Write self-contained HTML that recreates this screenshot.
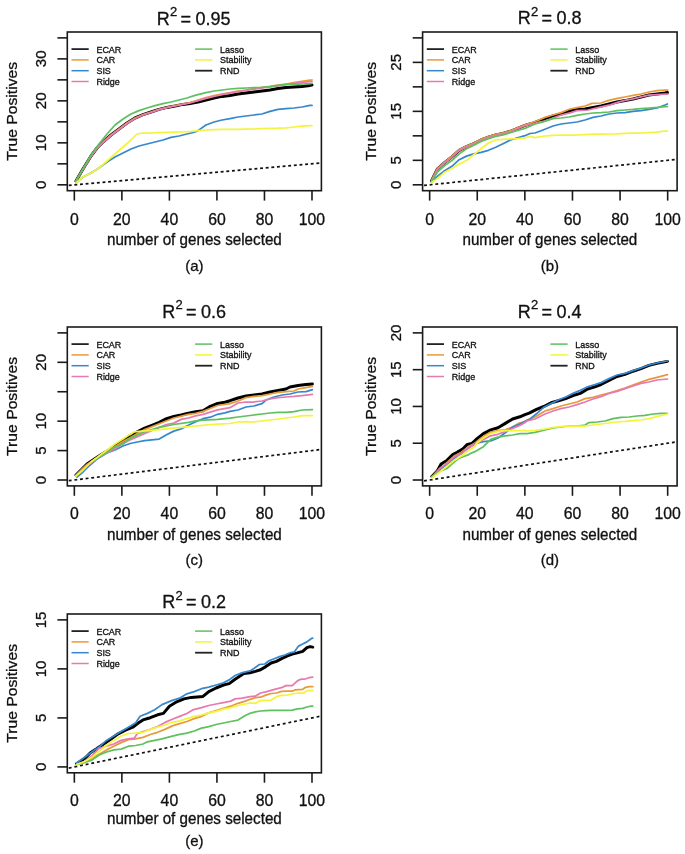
<!DOCTYPE html>
<html><head><meta charset="utf-8"><style>
html,body{margin:0;padding:0;background:#fff;}
svg{display:block;will-change:transform;}
text{font-family:"Liberation Sans", sans-serif;fill:#111;stroke:#111;stroke-width:0.3px;}
</style></head><body>
<svg width="685" height="854" viewBox="0 0 685 854">
<rect width="685" height="854" fill="#fff"/>
<g><text x="156.67" y="24.5" font-size="18.0">R</text><text x="170.1" y="16.3" font-size="13.0">2</text><text x="180.57" y="24.5" font-size="18.0">=</text><text x="195.55" y="24.5" font-size="18.0">0.95</text><clipPath id="cpa"><rect x="67.3" y="32" width="254.1" height="158.7"/></clipPath><g clip-path="url(#cpa)"><line x1="67.3" y1="185.44" x2="321.4" y2="163" stroke="#111" stroke-width="1.7" stroke-dasharray="2.90 2.75" stroke-dashoffset="4.21"/><path d="M76,181 L83,169 L91,156 L97,148 L103,142 L111,135 L119,129 L127,123 L135,118 L143,114.6 L151,112 L159,109.4 L167,107.4 L175,106 L183,104.4 L190,103.4 L198,102 L206,100 L214,98 L222,96.4 L230,95.4 L238,94 L246,93 L254,92 L262,91 L270,90 L278,88.6 L286,87.6 L294,87 L302,86.4 L310,85.4 L312,85" fill="none" stroke="#000000" stroke-width="3.0" stroke-linejoin="round" stroke-linecap="round"/><path d="M76,181 L83,169 L91,156 L97,148 L103,142 L111,135 L119,129 L127,123 L135,118 L143,114.6 L151,112 L159,109.4 L167,107.4 L175,105.6 L183,104 L190,102.5 L198,100 L206,97.6 L214,95.6 L222,94 L230,92.6 L238,91 L246,90 L254,88.6 L262,87.4 L270,86.4 L278,85 L286,84 L294,82.6 L302,81.4 L310,80.2 L312,80" fill="none" stroke="#E8993A" stroke-width="1.75" stroke-linejoin="round" stroke-linecap="round"/><path d="M76,183 L83,177 L91,173 L99,168 L107,162 L115,157 L123,153 L131,149 L139,146 L147,144 L155,142 L163,140 L171,137.4 L179,136 L187,134 L195,132 L198,130.6 L206,125 L214,122 L222,120 L230,118.6 L238,117 L246,116 L254,115 L262,114 L270,111.4 L278,109.4 L286,108.6 L294,108 L302,107 L310,105.4 L312,105.4" fill="none" stroke="#3787CD" stroke-width="1.75" stroke-linejoin="round" stroke-linecap="round"/><path d="M76,181 L83,169.5 L91,156.5 L97,148.5 L103,142.5 L111,135.5 L119,129.5 L127,123.5 L135,118.5 L143,115 L151,112.4 L159,109.6 L167,107.6 L175,106 L183,104.4 L190,103 L198,100.6 L206,98.4 L214,96.4 L222,94.6 L230,93.2 L238,91.6 L246,90.4 L254,89.2 L262,88 L270,87 L278,85.8 L286,84.6 L294,83.4 L302,82.4 L310,81.6 L312,81.4" fill="none" stroke="#E67AAE" stroke-width="1.75" stroke-linejoin="round" stroke-linecap="round"/><path d="M76,181 L83,169 L91,155 L99,144 L107,134 L115,125 L123,119 L131,114 L139,110.6 L147,108 L155,105.6 L163,103.6 L171,102 L179,100 L187,98 L195,95.4 L206,92.6 L214,91 L222,90 L230,89 L238,88.4 L246,88 L254,87.6 L262,87.4 L270,86.6 L278,85.4 L286,84.4 L294,84 L302,84 L310,83.6 L312,83.4" fill="none" stroke="#5EC05E" stroke-width="1.75" stroke-linejoin="round" stroke-linecap="round"/><path d="M76,183 L83,177 L91,173 L99,168 L107,161 L115,154 L123,147 L131,140 L137,134 L143,133 L151,133 L159,132.6 L167,132.4 L175,132.2 L183,132 L191,131.4 L198,130.6 L206,130 L214,129.6 L222,129.4 L230,129.4 L238,129.4 L246,129.2 L254,129 L262,128.6 L270,128.4 L278,128.2 L286,127.8 L294,127 L302,126.2 L310,125.6 L312,125.6" fill="none" stroke="#F4F43C" stroke-width="1.75" stroke-linejoin="round" stroke-linecap="round"/></g><rect x="67.3" y="32" width="254.1" height="158.7" fill="none" stroke="#1a1a1a" stroke-width="1.6"/><line x1="57.4" y1="184.82" x2="67.3" y2="184.82" stroke="#1a1a1a" stroke-width="1.6"/><line x1="57.4" y1="163.83" x2="67.3" y2="163.83" stroke="#1a1a1a" stroke-width="1.6"/><line x1="57.4" y1="142.84" x2="67.3" y2="142.84" stroke="#1a1a1a" stroke-width="1.6"/><line x1="57.4" y1="121.85" x2="67.3" y2="121.85" stroke="#1a1a1a" stroke-width="1.6"/><line x1="57.4" y1="100.85" x2="67.3" y2="100.85" stroke="#1a1a1a" stroke-width="1.6"/><line x1="57.4" y1="79.86" x2="67.3" y2="79.86" stroke="#1a1a1a" stroke-width="1.6"/><line x1="57.4" y1="58.87" x2="67.3" y2="58.87" stroke="#1a1a1a" stroke-width="1.6"/><line x1="57.4" y1="37.88" x2="67.3" y2="37.88" stroke="#1a1a1a" stroke-width="1.6"/><text transform="translate(45.87,184.82) rotate(-90)" font-size="15.0" text-anchor="middle">0</text><text transform="translate(45.87,142.84) rotate(-90)" font-size="15.0" text-anchor="middle">10</text><text transform="translate(45.87,100.85) rotate(-90)" font-size="15.0" text-anchor="middle">20</text><text transform="translate(45.87,58.87) rotate(-90)" font-size="15.0" text-anchor="middle">30</text><line x1="74.33" y1="190.7" x2="74.33" y2="200.6" stroke="#1a1a1a" stroke-width="1.6"/><text x="74.33" y="224.56" font-size="15.8" text-anchor="middle">0</text><line x1="121.87" y1="190.7" x2="121.87" y2="200.6" stroke="#1a1a1a" stroke-width="1.6"/><text x="121.87" y="224.56" font-size="15.8" text-anchor="middle">20</text><line x1="169.4" y1="190.7" x2="169.4" y2="200.6" stroke="#1a1a1a" stroke-width="1.6"/><text x="169.4" y="224.56" font-size="15.8" text-anchor="middle">40</text><line x1="216.93" y1="190.7" x2="216.93" y2="200.6" stroke="#1a1a1a" stroke-width="1.6"/><text x="216.93" y="224.56" font-size="15.8" text-anchor="middle">60</text><line x1="264.46" y1="190.7" x2="264.46" y2="200.6" stroke="#1a1a1a" stroke-width="1.6"/><text x="264.46" y="224.56" font-size="15.8" text-anchor="middle">80</text><line x1="311.99" y1="190.7" x2="311.99" y2="200.6" stroke="#1a1a1a" stroke-width="1.6"/><text x="311.99" y="224.56" font-size="15.8" text-anchor="middle">100</text><text transform="translate(194.35,244.8) scale(1,1.05)" font-size="15.2" text-anchor="middle">number of genes selected</text><text transform="translate(16.8,111.35) rotate(-90) scale(1,0.89)" font-size="15.7" text-anchor="middle">True Positives</text><text x="194.35" y="270.5" font-size="15.0" text-anchor="middle">(a)</text><line x1="71.5" y1="49.1" x2="88.7" y2="49.1" stroke="#222" stroke-width="1.8"/><text transform="translate(96.4,52.6) scale(1.01,1.1)" font-size="8.9">ECAR</text><line x1="71.5" y1="59.9" x2="88.7" y2="59.9" stroke="#E8993A" stroke-width="1.5"/><text transform="translate(96.4,63.4) scale(1.01,1.1)" font-size="8.9">CAR</text><line x1="71.5" y1="70.7" x2="88.7" y2="70.7" stroke="#3787CD" stroke-width="1.5"/><text transform="translate(96.4,74.2) scale(1.01,1.1)" font-size="8.9">SIS</text><line x1="71.5" y1="81.5" x2="88.7" y2="81.5" stroke="#E67AAE" stroke-width="1.5"/><text transform="translate(96.4,85) scale(1.01,1.1)" font-size="8.9">Ridge</text><line x1="195.1" y1="49.1" x2="212.3" y2="49.1" stroke="#5EC05E" stroke-width="1.5"/><text transform="translate(220,52.6) scale(1.01,1.1)" font-size="8.9">Lasso</text><line x1="195.1" y1="59.9" x2="212.3" y2="59.9" stroke="#F4F43C" stroke-width="1.5"/><text transform="translate(220,63.4) scale(1.01,1.1)" font-size="8.9">Stability</text><line x1="195.1" y1="70.7" x2="212.3" y2="70.7" stroke="#222" stroke-width="1.8"/><text transform="translate(220,74.2) scale(1.01,1.1)" font-size="8.9">RND</text></g><g><text x="517.67" y="24.4" font-size="18.0">R</text><text x="531.1" y="16.2" font-size="13.0">2</text><text x="541.57" y="24.4" font-size="18.0">=</text><text x="556.55" y="24.4" font-size="18.0">0.8</text><clipPath id="cpb"><rect x="422.6" y="32" width="254.5" height="158.7"/></clipPath><g clip-path="url(#cpb)"><line x1="422.6" y1="185.55" x2="677.1" y2="159.36" stroke="#111" stroke-width="1.7" stroke-dasharray="2.90 2.76" stroke-dashoffset="4.21"/><path d="M431.5,180.9 L437.3,169.2 L444.6,162.7 L451.9,156.8 L459.2,150.3 L466.5,146.6 L473.8,143.7 L481.1,140 L488.4,137.1 L495.7,134.9 L503,133.5 L510.3,131.3 L517.6,128.4 L524.9,125.4 L530,124 L531,124 L539,121 L545,118.6 L553,116 L561,114 L569,111.4 L577,109.4 L585,109 L593,107.4 L601,106 L609,104 L617,102 L625,100.6 L633,99 L641,97 L649,95 L657,94 L665,93 L667.4,92.6" fill="none" stroke="#000000" stroke-width="3.0" stroke-linejoin="round" stroke-linecap="round"/><path d="M431.5,180.3 L437.3,168.6 L444.6,162.1 L451.9,156.2 L459.2,149.7 L466.5,146 L473.8,143.1 L481.1,139.4 L488.4,136.5 L495.7,134.3 L503,132.9 L510.3,130.7 L517.6,127.8 L524.9,124.8 L530,123.4 L531,123 L539,120 L545,117.4 L553,115 L561,112.6 L570,109 L577,107.6 L585,106 L592,103.4 L601,103 L607,100.8 L613,99.4 L620,97.9 L625,97 L633,95.4 L641,94 L649,92 L657,90.6 L665,90 L667.7,90" fill="none" stroke="#E8993A" stroke-width="1.75" stroke-linejoin="round" stroke-linecap="round"/><path d="M431.5,182.4 L437.3,176.5 L444.6,170.7 L451.9,166.3 L459.2,159.7 L466.5,156.1 L473.8,153.9 L481.1,152.4 L488.4,150.3 L495.7,147.3 L503,143.7 L510.3,140 L517.6,137.8 L524.9,135.7 L530,133.5 L535,133 L543,130 L553,126 L561,124 L569,123 L577,122 L585,120 L593,117.4 L601,116 L609,114 L617,113 L625,112.6 L633,111.4 L641,110.6 L649,109.4 L657,108 L665,105 L667.4,104" fill="none" stroke="#3787CD" stroke-width="1.75" stroke-linejoin="round" stroke-linecap="round"/><path d="M431.5,181.3 L437.3,169.6 L444.6,163.1 L451.9,157.2 L459.2,150.7 L466.5,147 L473.8,144.1 L481.1,140.4 L488.4,137.5 L495.7,135.3 L503,133.9 L510.3,131.7 L517.6,128.8 L524.9,125.8 L530,124.4 L531,124.6 L539,122 L545,121 L553,118 L561,115 L570,112.9 L577,110.7 L588,110 L599,107.4 L610,104.9 L620,101.6 L625,100.4 L633,98.8 L641,96.8 L649,95.2 L657,94.6 L665,94 L667.7,94" fill="none" stroke="#E67AAE" stroke-width="1.75" stroke-linejoin="round" stroke-linecap="round"/><path d="M431.5,181.6 L437.3,172.2 L444.6,165.6 L451.9,160.5 L459.2,153.9 L466.5,148.8 L473.8,145.1 L481.1,141.5 L488.4,138.6 L495.7,136.4 L503,134.9 L510.3,132.7 L517.6,130.5 L524.9,128.4 L530,126.2 L535,124 L543,122 L553,118.6 L561,118 L569,117 L577,115.4 L585,114 L593,113 L601,112.6 L609,112 L617,110.6 L625,110 L633,109.4 L641,108.6 L649,108 L657,107.4 L665,106.6 L667.4,106.6" fill="none" stroke="#5EC05E" stroke-width="1.75" stroke-linejoin="round" stroke-linecap="round"/><path d="M431.5,182.4 L437.3,178.7 L444.6,172.2 L451.9,168.5 L459.2,164.1 L466.5,160.5 L473.8,154.6 L481.1,148.8 L488.4,143 L495.7,140 L503,139.3 L510.3,138.9 L517.6,138.6 L524.9,137.8 L530,136.4 L535,137.6 L545,136 L553,135.4 L561,135 L569,135 L577,135 L585,134.6 L593,134.2 L601,134.2 L609,134 L617,133.8 L625,133.4 L633,133 L641,133 L649,132.6 L657,132.2 L665,131 L667.4,131" fill="none" stroke="#F4F43C" stroke-width="1.75" stroke-linejoin="round" stroke-linecap="round"/></g><rect x="422.6" y="32" width="254.5" height="158.7" fill="none" stroke="#1a1a1a" stroke-width="1.6"/><line x1="412.7" y1="184.82" x2="422.6" y2="184.82" stroke="#1a1a1a" stroke-width="1.6"/><line x1="412.7" y1="160.33" x2="422.6" y2="160.33" stroke="#1a1a1a" stroke-width="1.6"/><line x1="412.7" y1="135.84" x2="422.6" y2="135.84" stroke="#1a1a1a" stroke-width="1.6"/><line x1="412.7" y1="111.35" x2="422.6" y2="111.35" stroke="#1a1a1a" stroke-width="1.6"/><line x1="412.7" y1="86.86" x2="422.6" y2="86.86" stroke="#1a1a1a" stroke-width="1.6"/><line x1="412.7" y1="62.37" x2="422.6" y2="62.37" stroke="#1a1a1a" stroke-width="1.6"/><line x1="412.7" y1="37.88" x2="422.6" y2="37.88" stroke="#1a1a1a" stroke-width="1.6"/><text transform="translate(401.17,184.82) rotate(-90)" font-size="15.0" text-anchor="middle">0</text><text transform="translate(401.17,160.33) rotate(-90)" font-size="15.0" text-anchor="middle">5</text><text transform="translate(401.17,111.35) rotate(-90)" font-size="15.0" text-anchor="middle">15</text><text transform="translate(401.17,62.37) rotate(-90)" font-size="15.0" text-anchor="middle">25</text><line x1="429.65" y1="190.7" x2="429.65" y2="200.6" stroke="#1a1a1a" stroke-width="1.6"/><text x="429.65" y="224.56" font-size="15.8" text-anchor="middle">0</text><line x1="477.25" y1="190.7" x2="477.25" y2="200.6" stroke="#1a1a1a" stroke-width="1.6"/><text x="477.25" y="224.56" font-size="15.8" text-anchor="middle">20</text><line x1="524.86" y1="190.7" x2="524.86" y2="200.6" stroke="#1a1a1a" stroke-width="1.6"/><text x="524.86" y="224.56" font-size="15.8" text-anchor="middle">40</text><line x1="572.46" y1="190.7" x2="572.46" y2="200.6" stroke="#1a1a1a" stroke-width="1.6"/><text x="572.46" y="224.56" font-size="15.8" text-anchor="middle">60</text><line x1="620.07" y1="190.7" x2="620.07" y2="200.6" stroke="#1a1a1a" stroke-width="1.6"/><text x="620.07" y="224.56" font-size="15.8" text-anchor="middle">80</text><line x1="667.67" y1="190.7" x2="667.67" y2="200.6" stroke="#1a1a1a" stroke-width="1.6"/><text x="667.67" y="224.56" font-size="15.8" text-anchor="middle">100</text><text transform="translate(549.85,244.8) scale(1,1.05)" font-size="15.2" text-anchor="middle">number of genes selected</text><text transform="translate(375.5,111.35) rotate(-90) scale(1,0.89)" font-size="15.7" text-anchor="middle">True Positives</text><text x="549.85" y="270.5" font-size="15.0" text-anchor="middle">(b)</text><line x1="426.8" y1="49.1" x2="444" y2="49.1" stroke="#222" stroke-width="1.8"/><text transform="translate(451.7,52.6) scale(1.01,1.1)" font-size="8.9">ECAR</text><line x1="426.8" y1="59.9" x2="444" y2="59.9" stroke="#E8993A" stroke-width="1.5"/><text transform="translate(451.7,63.4) scale(1.01,1.1)" font-size="8.9">CAR</text><line x1="426.8" y1="70.7" x2="444" y2="70.7" stroke="#3787CD" stroke-width="1.5"/><text transform="translate(451.7,74.2) scale(1.01,1.1)" font-size="8.9">SIS</text><line x1="426.8" y1="81.5" x2="444" y2="81.5" stroke="#E67AAE" stroke-width="1.5"/><text transform="translate(451.7,85) scale(1.01,1.1)" font-size="8.9">Ridge</text><line x1="550.4" y1="49.1" x2="567.6" y2="49.1" stroke="#5EC05E" stroke-width="1.5"/><text transform="translate(575.3,52.6) scale(1.01,1.1)" font-size="8.9">Lasso</text><line x1="550.4" y1="59.9" x2="567.6" y2="59.9" stroke="#F4F43C" stroke-width="1.5"/><text transform="translate(575.3,63.4) scale(1.01,1.1)" font-size="8.9">Stability</text><line x1="550.4" y1="70.7" x2="567.6" y2="70.7" stroke="#222" stroke-width="1.8"/><text transform="translate(575.3,74.2) scale(1.01,1.1)" font-size="8.9">RND</text></g><g><text x="162.17" y="317.6" font-size="18.0">R</text><text x="175.6" y="309.4" font-size="13.0">2</text><text x="186.07" y="317.6" font-size="18.0">=</text><text x="201.05" y="317.6" font-size="18.0">0.6</text><clipPath id="cpc"><rect x="67.3" y="327" width="254.1" height="158.9"/></clipPath><g clip-path="url(#cpc)"><line x1="67.3" y1="480.89" x2="321.4" y2="449.42" stroke="#111" stroke-width="1.7" stroke-dasharray="2.90 2.77" stroke-dashoffset="4.22"/><path d="M76,475 L81,470 L87,464 L93,460 L99,456 L107,451 L115,446 L123,441 L130,435.5 L137.3,431.8 L144.6,428.2 L151.9,425.3 L159.2,422.3 L166.5,418.7 L173.8,416.5 L181.1,415 L188.4,413.3 L195.7,411.8 L203,410.7 L210.3,406.3 L217.6,403.4 L224.9,402.2 L230,400.7 L238,398 L246,396 L254,395 L262,394 L270,392 L278,390.4 L286,389 L290,387 L298,385.6 L306,384.4 L312.4,384" fill="none" stroke="#000000" stroke-width="3.0" stroke-linejoin="round" stroke-linecap="round"/><path d="M76,475 L81,470 L87,464.5 L93,460.5 L99,456.5 L107,451.5 L115,446.5 L123,441.5 L130,437.7 L144.6,429.6 L159.2,423.8 L173.8,418 L188.4,414.3 L195.7,413.3 L203,411.4 L210.3,408.5 L217.6,405.5 L230,403.6 L238,401 L246,397.6 L254,396.4 L262,395.6 L270,394 L278,392.4 L286,391.6 L294,391 L298,389 L306,387.6 L312.4,386.4" fill="none" stroke="#E8993A" stroke-width="1.75" stroke-linejoin="round" stroke-linecap="round"/><path d="M77,477 L83,472 L89,466 L97,459 L107,453 L115,450 L123,446 L130,443.5 L137.3,442 L144.6,440.6 L151.9,439.9 L159.2,439.1 L166.5,434.7 L173.8,431.1 L181.1,428.9 L188.4,425.3 L195.7,421.6 L203,418.7 L210.3,417.2 L217.6,414.3 L224.9,412.8 L230,411.4 L238,410 L246,407 L254,406 L262,403.6 L266,400 L274,397 L282,395 L290,394 L298,392 L306,391.6 L312.4,389.6" fill="none" stroke="#3787CD" stroke-width="1.75" stroke-linejoin="round" stroke-linecap="round"/><path d="M76,476 L87,466 L99,457 L107,453 L115,449 L123,443.6 L130,439.9 L151.9,430.4 L166.5,424.5 L173.8,423.1 L181.1,419.4 L188.4,418 L195.7,415.8 L203,414.3 L210.3,412.1 L217.6,409.9 L230,407.7 L238,403 L246,402 L254,402 L262,401 L270,399 L278,397.6 L286,397 L294,396.4 L302,395.6 L312.4,394.4" fill="none" stroke="#E67AAE" stroke-width="1.75" stroke-linejoin="round" stroke-linecap="round"/><path d="M76,476 L83,470 L91,462 L99,457 L107,452 L115,447 L123,444 L130,438.4 L144.6,431.8 L159.2,427.4 L173.8,424.5 L188.4,422.3 L195.7,420.9 L203,420.1 L217.6,419.4 L230,418.2 L238,417 L246,416 L254,415 L262,414 L270,413 L278,412.4 L286,412.4 L294,411.6 L302,410 L312.4,409.6" fill="none" stroke="#5EC05E" stroke-width="1.75" stroke-linejoin="round" stroke-linecap="round"/><path d="M76,476 L83,470 L91,462 L99,456 L107,450 L115,444 L123,439 L129,435 L130,434.7 L134.4,431.8 L141.7,431.1 L151.9,430.4 L159.2,429.6 L166.5,428.9 L173.8,428.2 L181.1,427.4 L188.4,426.7 L195.7,426 L203,425.3 L210.3,424.5 L217.6,424.1 L230,423.5 L238,422 L246,421.6 L254,422 L262,421 L270,420 L278,419 L286,418 L294,417 L302,415.6 L312.4,415.6" fill="none" stroke="#F4F43C" stroke-width="1.75" stroke-linejoin="round" stroke-linecap="round"/></g><rect x="67.3" y="327" width="254.1" height="158.9" fill="none" stroke="#1a1a1a" stroke-width="1.6"/><line x1="57.4" y1="480.01" x2="67.3" y2="480.01" stroke="#1a1a1a" stroke-width="1.6"/><line x1="57.4" y1="450.59" x2="67.3" y2="450.59" stroke="#1a1a1a" stroke-width="1.6"/><line x1="57.4" y1="421.16" x2="67.3" y2="421.16" stroke="#1a1a1a" stroke-width="1.6"/><line x1="57.4" y1="391.74" x2="67.3" y2="391.74" stroke="#1a1a1a" stroke-width="1.6"/><line x1="57.4" y1="362.31" x2="67.3" y2="362.31" stroke="#1a1a1a" stroke-width="1.6"/><line x1="57.4" y1="332.89" x2="67.3" y2="332.89" stroke="#1a1a1a" stroke-width="1.6"/><text transform="translate(45.87,480.01) rotate(-90)" font-size="15.0" text-anchor="middle">0</text><text transform="translate(45.87,450.59) rotate(-90)" font-size="15.0" text-anchor="middle">5</text><text transform="translate(45.87,421.16) rotate(-90)" font-size="15.0" text-anchor="middle">10</text><text transform="translate(45.87,362.31) rotate(-90)" font-size="15.0" text-anchor="middle">20</text><line x1="74.33" y1="485.9" x2="74.33" y2="495.8" stroke="#1a1a1a" stroke-width="1.6"/><text x="74.33" y="518.96" font-size="15.8" text-anchor="middle">0</text><line x1="121.87" y1="485.9" x2="121.87" y2="495.8" stroke="#1a1a1a" stroke-width="1.6"/><text x="121.87" y="518.96" font-size="15.8" text-anchor="middle">20</text><line x1="169.4" y1="485.9" x2="169.4" y2="495.8" stroke="#1a1a1a" stroke-width="1.6"/><text x="169.4" y="518.96" font-size="15.8" text-anchor="middle">40</text><line x1="216.93" y1="485.9" x2="216.93" y2="495.8" stroke="#1a1a1a" stroke-width="1.6"/><text x="216.93" y="518.96" font-size="15.8" text-anchor="middle">60</text><line x1="264.46" y1="485.9" x2="264.46" y2="495.8" stroke="#1a1a1a" stroke-width="1.6"/><text x="264.46" y="518.96" font-size="15.8" text-anchor="middle">80</text><line x1="311.99" y1="485.9" x2="311.99" y2="495.8" stroke="#1a1a1a" stroke-width="1.6"/><text x="311.99" y="518.96" font-size="15.8" text-anchor="middle">100</text><text transform="translate(194.35,539.7) scale(1,1.05)" font-size="15.2" text-anchor="middle">number of genes selected</text><text transform="translate(16.8,406.45) rotate(-90) scale(1,0.89)" font-size="15.7" text-anchor="middle">True Positives</text><text x="194.35" y="564.8" font-size="15.0" text-anchor="middle">(c)</text><line x1="71.5" y1="344.1" x2="88.7" y2="344.1" stroke="#222" stroke-width="1.8"/><text transform="translate(96.4,347.6) scale(1.01,1.1)" font-size="8.9">ECAR</text><line x1="71.5" y1="354.9" x2="88.7" y2="354.9" stroke="#E8993A" stroke-width="1.5"/><text transform="translate(96.4,358.4) scale(1.01,1.1)" font-size="8.9">CAR</text><line x1="71.5" y1="365.7" x2="88.7" y2="365.7" stroke="#3787CD" stroke-width="1.5"/><text transform="translate(96.4,369.2) scale(1.01,1.1)" font-size="8.9">SIS</text><line x1="71.5" y1="376.5" x2="88.7" y2="376.5" stroke="#E67AAE" stroke-width="1.5"/><text transform="translate(96.4,380) scale(1.01,1.1)" font-size="8.9">Ridge</text><line x1="195.1" y1="344.1" x2="212.3" y2="344.1" stroke="#5EC05E" stroke-width="1.5"/><text transform="translate(220,347.6) scale(1.01,1.1)" font-size="8.9">Lasso</text><line x1="195.1" y1="354.9" x2="212.3" y2="354.9" stroke="#F4F43C" stroke-width="1.5"/><text transform="translate(220,358.4) scale(1.01,1.1)" font-size="8.9">Stability</text><line x1="195.1" y1="365.7" x2="212.3" y2="365.7" stroke="#222" stroke-width="1.8"/><text transform="translate(220,369.2) scale(1.01,1.1)" font-size="8.9">RND</text></g><g><text x="517.67" y="317.6" font-size="18.0">R</text><text x="531.1" y="309.4" font-size="13.0">2</text><text x="541.57" y="317.6" font-size="18.0">=</text><text x="556.55" y="317.6" font-size="18.0">0.4</text><clipPath id="cpd"><rect x="422.6" y="327" width="254.5" height="158.9"/></clipPath><g clip-path="url(#cpd)"><line x1="422.6" y1="481.1" x2="677.1" y2="441.78" stroke="#111" stroke-width="1.7" stroke-dasharray="2.90 2.80" stroke-dashoffset="4.23"/><path d="M431.9,476.5 L437.4,470.7 L441.1,464.1 L446.9,460.4 L452.7,454.6 L457.1,452.4 L463,448.8 L467.3,444.4 L471.7,443.6 L475,440.7 L476.1,439.4 L483.4,433.6 L490.7,429.9 L498,427.7 L505.3,423.4 L512.6,419 L519.9,416.8 L525,414.6 L529.2,413.1 L536.5,409.4 L543.8,406.5 L551.1,402.8 L558.4,400.7 L565.7,398.5 L573,395.5 L580.3,393.4 L587.6,389 L594.9,386.8 L601,384.5 L609,380.5 L617,376.5 L625,374.3 L633,371.2 L641,368.6 L649,365.4 L657,363.4 L667.4,361.4" fill="none" stroke="#000000" stroke-width="3.0" stroke-linejoin="round" stroke-linecap="round"/><path d="M431.9,477 L439.6,468.9 L446.9,462.6 L454.2,456.1 L461.5,452.2 L468.8,446.5 L475,442.9 L483.4,436.5 L490.7,432.1 L498,430.7 L505.3,429.9 L512.6,427 L518.4,423.4 L525,421.9 L527,420 L535,417 L545,411 L553,408.6 L561,406 L569,404 L577,402 L585,398.6 L593,397.4 L601,395 L609,393 L617,390.6 L625,388 L633,385 L641,382 L649,379.4 L657,377.4 L667.4,374.6" fill="none" stroke="#E8993A" stroke-width="1.75" stroke-linejoin="round" stroke-linecap="round"/><path d="M431.9,477 L439.6,469.9 L446.9,464.8 L454.2,458.2 L461.5,453.1 L468.8,448 L475,443.6 L483.4,441.6 L490.7,440.9 L498,438 L505.3,432.8 L512.6,427 L519.9,424.1 L525,421.2 L529.2,419.6 L536.5,413.8 L543.8,407.2 L551.1,403.6 L558.4,400 L565.7,397 L573,393.4 L580.3,390.4 L587.6,386.8 L594.9,384.6 L601,382.6 L609,378.6 L617,375 L625,373.4 L633,370.6 L641,368 L649,365 L657,363 L667.4,361" fill="none" stroke="#3787CD" stroke-width="1.75" stroke-linejoin="round" stroke-linecap="round"/><path d="M431.9,477 L439.6,468.5 L446.9,463.4 L454.2,456.8 L461.5,453.9 L468.8,447.3 L475,444.4 L483.4,439.4 L490.7,435.8 L498,434.3 L505.3,431.4 L512.6,428.5 L519.9,425.5 L525,422.6 L527,421 L535,419 L545,414 L553,411 L561,408.6 L569,407 L577,404.6 L585,402 L593,399 L601,396.6 L609,393.4 L617,391.4 L625,388.6 L633,386 L641,383.4 L649,382 L657,380 L667.4,379" fill="none" stroke="#E67AAE" stroke-width="1.75" stroke-linejoin="round" stroke-linecap="round"/><path d="M431.9,476.5 L439.6,471.4 L446.9,468.5 L452.7,463.4 L457.8,459 L463,456.8 L468.8,454.6 L471.7,452.8 L475,451.7 L476.1,451.1 L483.4,446.7 L490.7,439.4 L498,437.2 L505.3,435.8 L512.6,435 L519.9,433.6 L525,433.6 L527,433.6 L535,432.4 L545,430 L553,428 L561,427 L569,426 L577,426 L585,425 L589,422.6 L597,422 L605,421 L613,418.6 L621,417.4 L629,417 L637,416 L645,415.4 L653,414 L661,413.4 L667.4,413.4" fill="none" stroke="#5EC05E" stroke-width="1.75" stroke-linejoin="round" stroke-linecap="round"/><path d="M431.9,478 L439.6,472.1 L446.9,466.3 L454.2,460.4 L461.5,456.1 L468.8,450.2 L475,446.6 L476.1,443.8 L483.4,438 L490.7,433.6 L498,431.4 L505.3,430.7 L512.6,430.7 L519.9,430.7 L525,430.7 L527,431 L535,430.4 L545,429 L553,427.4 L561,426.6 L569,426 L577,426 L585,426 L593,425 L601,424 L609,423 L617,422 L625,421.4 L633,420.6 L641,420 L649,418.6 L657,416.6 L667.4,414" fill="none" stroke="#F4F43C" stroke-width="1.75" stroke-linejoin="round" stroke-linecap="round"/></g><rect x="422.6" y="327" width="254.5" height="158.9" fill="none" stroke="#1a1a1a" stroke-width="1.6"/><line x1="412.7" y1="480.01" x2="422.6" y2="480.01" stroke="#1a1a1a" stroke-width="1.6"/><line x1="412.7" y1="443.23" x2="422.6" y2="443.23" stroke="#1a1a1a" stroke-width="1.6"/><line x1="412.7" y1="406.45" x2="422.6" y2="406.45" stroke="#1a1a1a" stroke-width="1.6"/><line x1="412.7" y1="369.67" x2="422.6" y2="369.67" stroke="#1a1a1a" stroke-width="1.6"/><line x1="412.7" y1="332.89" x2="422.6" y2="332.89" stroke="#1a1a1a" stroke-width="1.6"/><text transform="translate(401.17,480.01) rotate(-90)" font-size="15.0" text-anchor="middle">0</text><text transform="translate(401.17,443.23) rotate(-90)" font-size="15.0" text-anchor="middle">5</text><text transform="translate(401.17,406.45) rotate(-90)" font-size="15.0" text-anchor="middle">10</text><text transform="translate(401.17,369.67) rotate(-90)" font-size="15.0" text-anchor="middle">15</text><text transform="translate(401.17,332.89) rotate(-90)" font-size="15.0" text-anchor="middle">20</text><line x1="429.65" y1="485.9" x2="429.65" y2="495.8" stroke="#1a1a1a" stroke-width="1.6"/><text x="429.65" y="518.96" font-size="15.8" text-anchor="middle">0</text><line x1="477.25" y1="485.9" x2="477.25" y2="495.8" stroke="#1a1a1a" stroke-width="1.6"/><text x="477.25" y="518.96" font-size="15.8" text-anchor="middle">20</text><line x1="524.86" y1="485.9" x2="524.86" y2="495.8" stroke="#1a1a1a" stroke-width="1.6"/><text x="524.86" y="518.96" font-size="15.8" text-anchor="middle">40</text><line x1="572.46" y1="485.9" x2="572.46" y2="495.8" stroke="#1a1a1a" stroke-width="1.6"/><text x="572.46" y="518.96" font-size="15.8" text-anchor="middle">60</text><line x1="620.07" y1="485.9" x2="620.07" y2="495.8" stroke="#1a1a1a" stroke-width="1.6"/><text x="620.07" y="518.96" font-size="15.8" text-anchor="middle">80</text><line x1="667.67" y1="485.9" x2="667.67" y2="495.8" stroke="#1a1a1a" stroke-width="1.6"/><text x="667.67" y="518.96" font-size="15.8" text-anchor="middle">100</text><text transform="translate(549.85,539.7) scale(1,1.05)" font-size="15.2" text-anchor="middle">number of genes selected</text><text transform="translate(375.5,406.45) rotate(-90) scale(1,0.89)" font-size="15.7" text-anchor="middle">True Positives</text><text x="549.85" y="564.8" font-size="15.0" text-anchor="middle">(d)</text><line x1="426.8" y1="344.1" x2="444" y2="344.1" stroke="#222" stroke-width="1.8"/><text transform="translate(451.7,347.6) scale(1.01,1.1)" font-size="8.9">ECAR</text><line x1="426.8" y1="354.9" x2="444" y2="354.9" stroke="#E8993A" stroke-width="1.5"/><text transform="translate(451.7,358.4) scale(1.01,1.1)" font-size="8.9">CAR</text><line x1="426.8" y1="365.7" x2="444" y2="365.7" stroke="#3787CD" stroke-width="1.5"/><text transform="translate(451.7,369.2) scale(1.01,1.1)" font-size="8.9">SIS</text><line x1="426.8" y1="376.5" x2="444" y2="376.5" stroke="#E67AAE" stroke-width="1.5"/><text transform="translate(451.7,380) scale(1.01,1.1)" font-size="8.9">Ridge</text><line x1="550.4" y1="344.1" x2="567.6" y2="344.1" stroke="#5EC05E" stroke-width="1.5"/><text transform="translate(575.3,347.6) scale(1.01,1.1)" font-size="8.9">Lasso</text><line x1="550.4" y1="354.9" x2="567.6" y2="354.9" stroke="#F4F43C" stroke-width="1.5"/><text transform="translate(575.3,358.4) scale(1.01,1.1)" font-size="8.9">Stability</text><line x1="550.4" y1="365.7" x2="567.6" y2="365.7" stroke="#222" stroke-width="1.8"/><text transform="translate(575.3,369.2) scale(1.01,1.1)" font-size="8.9">RND</text></g><g><text x="162.17" y="608.4" font-size="18.0">R</text><text x="175.6" y="600.2" font-size="13.0">2</text><text x="186.07" y="608.4" font-size="18.0">=</text><text x="201.05" y="608.4" font-size="18.0">0.2</text><clipPath id="cpe"><rect x="67.3" y="614" width="254.1" height="158.8"/></clipPath><g clip-path="url(#cpe)"><line x1="67.3" y1="768.37" x2="321.4" y2="715.97" stroke="#111" stroke-width="1.7" stroke-dasharray="2.90 2.85" stroke-dashoffset="4.26"/><path d="M76.6,763.7 L84.6,758.6 L90.4,752.8 L96.3,749.1 L103.6,744 L110.9,738.9 L118.2,733.8 L125.5,730.1 L132.8,727.2 L138.6,722.8 L143,719.9 L150.3,717.7 L157.6,714.8 L163.4,713.4 L169.4,706.2 L176.7,701.8 L184,698.9 L191.3,697.4 L203,696.4 L208.8,691.6 L216.1,688 L223.4,685 L229.2,683.6 L235.1,679.2 L243.8,673.4 L250,672.8 L255.3,671.4 L260.5,669.8 L265.8,666.6 L271.1,663 L276.4,661.4 L281.6,658.7 L286.9,656.1 L292.2,654 L297.4,652.9 L302.7,651.4 L306.9,647.7 L310.1,646.6 L312.7,647.1" fill="none" stroke="#000000" stroke-width="3.0" stroke-linejoin="round" stroke-linecap="round"/><path d="M76.6,764.5 L84.6,762.3 L91.9,758.6 L99.2,754.2 L106.5,749.9 L113.8,746.2 L121.1,742.6 L128.4,739.6 L135.7,738.9 L143,737.4 L150.3,734.5 L157.6,732.3 L164.9,729.4 L172.3,725.9 L179.6,723.7 L186.9,721.5 L194.2,718.6 L201.5,716.4 L208.8,712.8 L216.1,710.6 L223.4,708.4 L230.7,706.2 L238,703.3 L245.3,701.1 L250,699.3 L255.3,697.7 L260.5,697.2 L265.8,695.1 L271.1,693.5 L276.4,693 L281.6,691.4 L286.9,691.2 L292.2,691.2 L295.3,689.8 L302.7,689.3 L304.8,687.7 L309,686.7 L312.7,686.7" fill="none" stroke="#E8993A" stroke-width="1.75" stroke-linejoin="round" stroke-linecap="round"/><path d="M76.6,763 L84.6,757.2 L91.9,752 L99.2,746.9 L106.5,740.4 L113.8,736 L121.1,731.6 L128.4,727.2 L135.7,722.8 L140.1,716.3 L147.4,713.4 L154.7,709.7 L162,704.6 L172.3,700.4 L179.6,698.2 L186.9,693.8 L194.2,691.6 L201.5,688.7 L208.8,687.2 L216.1,685 L223.4,682.8 L229.2,679.9 L235.1,675.5 L242.4,672.6 L250,670.9 L254.2,668.2 L259.5,664.5 L264.8,664 L269,660.8 L274.2,658.7 L279.5,656.6 L284.8,655 L290.1,652.9 L294.3,651.9 L298.5,646.1 L302.7,644 L306.9,641.9 L311.1,638.7 L312.7,638.2" fill="none" stroke="#3787CD" stroke-width="1.75" stroke-linejoin="round" stroke-linecap="round"/><path d="M76.6,764.5 L84.6,761.5 L91.9,755.7 L99.2,748.4 L106.5,746.2 L113.8,744 L121.1,740.4 L128.4,738.9 L134.2,738.2 L137.2,733.8 L143,731.6 L150.3,729.4 L157.6,726.5 L165,722.4 L172.3,719.3 L179.6,716.4 L186.9,713.5 L192.7,709.9 L201.5,707.7 L208.8,705.5 L216.1,704 L223.4,702.6 L230.7,701.1 L235.1,698.9 L242.4,698.2 L250,696.7 L255.3,696.2 L260.5,693 L265.8,691.9 L271.1,690.4 L276.4,688.8 L281.6,687.7 L285.8,685.6 L292.2,685.6 L297.4,680.9 L300.6,679.3 L305.9,678.8 L309,677.7 L312.7,677.2" fill="none" stroke="#E67AAE" stroke-width="1.75" stroke-linejoin="round" stroke-linecap="round"/><path d="M76.6,764.5 L84.6,762.3 L91.9,760.1 L99.2,755 L106.5,752 L113.8,749.9 L121.1,749.1 L128.4,746.2 L135.7,745.5 L143,744 L147.4,741.8 L154.7,740.4 L162,738.9 L172.3,736.1 L179.6,734.4 L186.9,733.2 L194.2,731 L201.5,728.1 L208.8,726.6 L216.1,724.5 L223.4,723 L230.7,721.5 L238,720.1 L245.3,715.5 L250,713.3 L255.3,711.8 L260.5,711 L265.8,710.6 L271.1,710.4 L276.4,710.4 L281.6,710.4 L286.9,710.4 L292.2,710.2 L297.4,708.8 L302.7,708.3 L306.9,707 L311.1,706.2 L312.7,706.2" fill="none" stroke="#5EC05E" stroke-width="1.75" stroke-linejoin="round" stroke-linecap="round"/><path d="M76.6,764.5 L84.6,761.5 L91.9,757.2 L99.2,751.3 L106.5,745.5 L113.8,740.4 L121.1,736 L128.4,733.5 L135.7,733.1 L143,732.3 L150.3,729.4 L157.6,727.2 L164.9,725 L172.3,722.3 L179.6,720.8 L186.9,718.6 L194.2,716.4 L201.5,715 L208.8,712.8 L216.1,711.3 L223.4,709.1 L230.7,707.7 L238,705.5 L245.3,704 L250,703 L256.3,703 L259.5,700.7 L265.8,700.4 L271.1,700.1 L276.4,696.7 L281.6,695.4 L286.9,695.1 L292.2,694 L297.4,693 L303.8,693 L306.9,690.9 L312.7,690.4" fill="none" stroke="#F4F43C" stroke-width="1.75" stroke-linejoin="round" stroke-linecap="round"/></g><rect x="67.3" y="614" width="254.1" height="158.8" fill="none" stroke="#1a1a1a" stroke-width="1.6"/><line x1="57.4" y1="766.92" x2="67.3" y2="766.92" stroke="#1a1a1a" stroke-width="1.6"/><line x1="57.4" y1="717.91" x2="67.3" y2="717.91" stroke="#1a1a1a" stroke-width="1.6"/><line x1="57.4" y1="668.89" x2="67.3" y2="668.89" stroke="#1a1a1a" stroke-width="1.6"/><line x1="57.4" y1="619.88" x2="67.3" y2="619.88" stroke="#1a1a1a" stroke-width="1.6"/><text transform="translate(45.87,766.92) rotate(-90)" font-size="15.0" text-anchor="middle">0</text><text transform="translate(45.87,717.91) rotate(-90)" font-size="15.0" text-anchor="middle">5</text><text transform="translate(45.87,668.89) rotate(-90)" font-size="15.0" text-anchor="middle">10</text><text transform="translate(45.87,619.88) rotate(-90)" font-size="15.0" text-anchor="middle">15</text><line x1="74.33" y1="772.8" x2="74.33" y2="782.7" stroke="#1a1a1a" stroke-width="1.6"/><text x="74.33" y="805.66" font-size="15.8" text-anchor="middle">0</text><line x1="121.87" y1="772.8" x2="121.87" y2="782.7" stroke="#1a1a1a" stroke-width="1.6"/><text x="121.87" y="805.66" font-size="15.8" text-anchor="middle">20</text><line x1="169.4" y1="772.8" x2="169.4" y2="782.7" stroke="#1a1a1a" stroke-width="1.6"/><text x="169.4" y="805.66" font-size="15.8" text-anchor="middle">40</text><line x1="216.93" y1="772.8" x2="216.93" y2="782.7" stroke="#1a1a1a" stroke-width="1.6"/><text x="216.93" y="805.66" font-size="15.8" text-anchor="middle">60</text><line x1="264.46" y1="772.8" x2="264.46" y2="782.7" stroke="#1a1a1a" stroke-width="1.6"/><text x="264.46" y="805.66" font-size="15.8" text-anchor="middle">80</text><line x1="311.99" y1="772.8" x2="311.99" y2="782.7" stroke="#1a1a1a" stroke-width="1.6"/><text x="311.99" y="805.66" font-size="15.8" text-anchor="middle">100</text><text transform="translate(194.35,824.3) scale(1,1.05)" font-size="15.2" text-anchor="middle">number of genes selected</text><text transform="translate(16.8,693.4) rotate(-90) scale(1,0.89)" font-size="15.7" text-anchor="middle">True Positives</text><text x="194.35" y="846.3" font-size="15.0" text-anchor="middle">(e)</text><line x1="71.5" y1="631.1" x2="88.7" y2="631.1" stroke="#222" stroke-width="1.8"/><text transform="translate(96.4,634.6) scale(1.01,1.1)" font-size="8.9">ECAR</text><line x1="71.5" y1="641.9" x2="88.7" y2="641.9" stroke="#E8993A" stroke-width="1.5"/><text transform="translate(96.4,645.4) scale(1.01,1.1)" font-size="8.9">CAR</text><line x1="71.5" y1="652.7" x2="88.7" y2="652.7" stroke="#3787CD" stroke-width="1.5"/><text transform="translate(96.4,656.2) scale(1.01,1.1)" font-size="8.9">SIS</text><line x1="71.5" y1="663.5" x2="88.7" y2="663.5" stroke="#E67AAE" stroke-width="1.5"/><text transform="translate(96.4,667) scale(1.01,1.1)" font-size="8.9">Ridge</text><line x1="195.1" y1="631.1" x2="212.3" y2="631.1" stroke="#5EC05E" stroke-width="1.5"/><text transform="translate(220,634.6) scale(1.01,1.1)" font-size="8.9">Lasso</text><line x1="195.1" y1="641.9" x2="212.3" y2="641.9" stroke="#F4F43C" stroke-width="1.5"/><text transform="translate(220,645.4) scale(1.01,1.1)" font-size="8.9">Stability</text><line x1="195.1" y1="652.7" x2="212.3" y2="652.7" stroke="#222" stroke-width="1.8"/><text transform="translate(220,656.2) scale(1.01,1.1)" font-size="8.9">RND</text></g>
</svg></body></html>
